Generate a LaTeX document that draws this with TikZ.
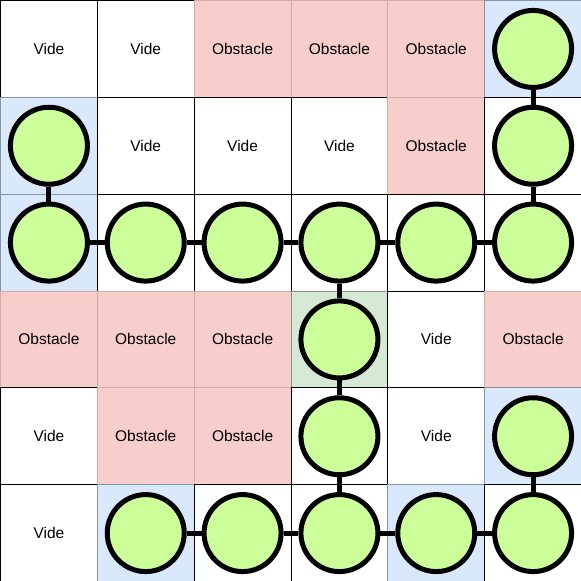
\documentclass[tikz,border=0pt]{standalone}
\usepackage{fontspec}
\setmainfont{Liberation Sans}
\definecolor{bluecell}{HTML}{DAE8FC}
\definecolor{bluestroke}{HTML}{8393A8}
\definecolor{pinkcell}{HTML}{F8CECC}
\definecolor{pinkstroke}{HTML}{D4A9A8}
\definecolor{greencell}{HTML}{D5E8D4}
\definecolor{greenstroke}{HTML}{7F977E}
\definecolor{ballfill}{HTML}{CCFF99}
\begin{document}
\begin{tikzpicture}[x=1pt,y=-1pt,
  cell/.style={draw=black,line width=1pt,fill=white,minimum size=96.8333pt,inner sep=0pt,anchor=north west,font=\fontsize{15.5}{18}\selectfont},
  obst/.style={cell,fill=pinkcell,draw=pinkstroke},
  bcell/.style={cell,fill=bluecell,draw=bluestroke},
  gcell/.style={cell,fill=greencell,draw=greenstroke},
  ball/.style={circle,draw=black,line width=5pt,fill=ballfill,minimum size=77pt,inner sep=0pt},
  link/.style={draw=black,line width=5pt}]
\def\c{96.8333}
\useasboundingbox (0,0) rectangle (581,581);
% row 0
\node[cell] (c00) at (0*\c,0*\c) {Vide};
\node[cell] (c01) at (1*\c,0*\c) {Vide};
\node[obst] (c02) at (2*\c,0*\c) {Obstacle};
\node[obst] (c03) at (3*\c,0*\c) {Obstacle};
\node[obst] (c04) at (4*\c,0*\c) {Obstacle};
\node[bcell] (c05) at (5*\c,0*\c) {};
% row 1
\node[bcell] (c10) at (0*\c,1*\c) {};
\node[cell] (c11) at (1*\c,1*\c) {Vide};
\node[cell] (c12) at (2*\c,1*\c) {Vide};
\node[cell] (c13) at (3*\c,1*\c) {Vide};
\node[obst] (c14) at (4*\c,1*\c) {Obstacle};
\node[cell] (c15) at (5*\c,1*\c) {};
% row 2
\node[bcell] (c20) at (0*\c,2*\c) {};
\node[cell] (c21) at (1*\c,2*\c) {};
\node[cell] (c22) at (2*\c,2*\c) {};
\node[cell] (c23) at (3*\c,2*\c) {};
\node[cell] (c24) at (4*\c,2*\c) {};
\node[cell] (c25) at (5*\c,2*\c) {};
% row 3
\node[obst] (c30) at (0*\c,3*\c) {Obstacle};
\node[obst] (c31) at (1*\c,3*\c) {Obstacle};
\node[obst] (c32) at (2*\c,3*\c) {Obstacle};
\node[gcell] (c33) at (3*\c,3*\c) {};
\node[cell] (c34) at (4*\c,3*\c) {Vide};
\node[obst] (c35) at (5*\c,3*\c) {Obstacle};
% row 4
\node[cell] (c40) at (0*\c,4*\c) {Vide};
\node[obst] (c41) at (1*\c,4*\c) {Obstacle};
\node[obst] (c42) at (2*\c,4*\c) {Obstacle};
\node[cell] (c43) at (3*\c,4*\c) {};
\node[cell] (c44) at (4*\c,4*\c) {Vide};
\node[bcell] (c45) at (5*\c,4*\c) {};
% row 5
\node[cell] (c50) at (0*\c,5*\c) {Vide};
\node[bcell] (c51) at (1*\c,5*\c) {};
\node[cell] (c52) at (2*\c,5*\c) {};
\node[cell] (c53) at (3*\c,5*\c) {};
\node[bcell] (c54) at (4*\c,5*\c) {};
\node[cell] (c55) at (5*\c,5*\c) {};
% balls
\foreach \r/\k in {0/5,1/5,2/5,1/0,2/0,2/1,2/2,2/3,2/4,3/3,4/3,5/3,5/1,5/2,5/4,5/5,4/5}
  \node[ball] (b\r\k) at (c\r\k.center) {};
% links
\foreach \a/\b in {b05/b15,b15/b25,b10/b20,b20/b21,b21/b22,b22/b23,b23/b24,b24/b25,
  b23/b33,b33/b43,b43/b53,b51/b52,b52/b53,b53/b54,b54/b55,b45/b55}
  \draw[link] (\a) -- (\b);
\end{tikzpicture}
\end{document}
